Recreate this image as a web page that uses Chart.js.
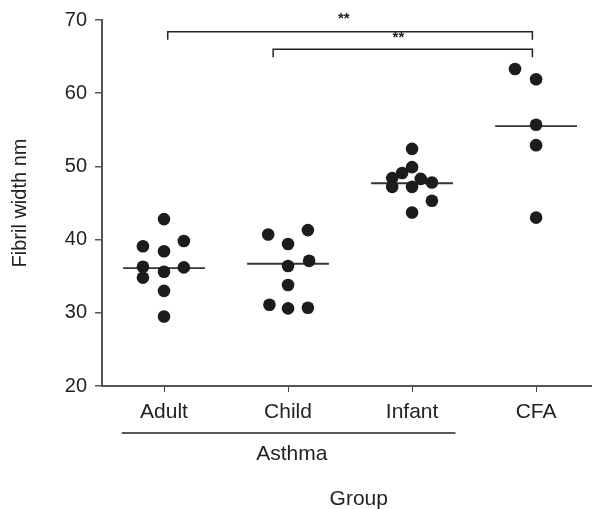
<!DOCTYPE html>
<html>
<head>
<meta charset="utf-8">
<script src="https://cdn.jsdelivr.net/npm/chart.js@4.4.0/dist/chart.umd.min.js"></script>
<style>
  html, body { margin: 0; padding: 0; background: #fff; }
  canvas { display: block; }
</style>
</head>
<body>
<canvas id="myChart" width="592" height="509"></canvas>
<script>
// categories on the x axis (positions 1..4)
const categories = ["Adult", "Child", "Infant", "CFA"];

// fibril widths (nm), with the horizontal spread of each dot
const adultValues  = [42.8, 39.1, 39.8, 38.4, 36.3, 36.2, 34.8, 35.6, 33.0, 29.5];
const adultSpread  = [0, -0.17, 0.16, 0, -0.17, 0.16, -0.17, 0, 0, 0];
const childValues  = [40.7, 41.3, 39.4, 36.4, 37.1, 33.8, 31.1, 30.6, 30.7];
const childSpread  = [-0.16, 0.16, 0, 0, 0.17, 0, -0.15, 0, 0.16];
const infantValues = [52.4, 49.9, 49.1, 48.4, 48.3, 47.8, 47.2, 47.2, 45.3, 43.7];
const infantSpread = [0, 0, -0.08, -0.16, 0.07, 0.16, -0.16, 0, 0.16, 0];
const cfaValues    = [63.3, 61.9, 55.7, 52.9, 43.0];
const cfaSpread    = [-0.17, 0, 0, 0, 0];

// median line of each group
const medians = [36.1, 36.7, 47.7, 55.5];

// y axis ticks
const yTicks = [20, 30, 40, 50, 60, 70];

// significance brackets: [from, to, level, drop], text
const bracket1 = [1.03, 3.97, 68.4, 67.3];
const bracket2 = [1.88, 3.97, 66.0, 64.9];
const bracketLabels = ["**", "**"];

const groups = [
  [adultValues, adultSpread],
  [childValues, childSpread],
  [infantValues, infantSpread],
  [cfaValues, cfaSpread],
];

function dots(values, spread, pos) {
  return values.map((v, i) => ({ x: pos + spread[i], y: v }));
}

function bracketPoints(b) {
  return [
    { x: b[0], y: b[3] },
    { x: b[0], y: b[2] },
    { x: b[1], y: b[2] },
    { x: b[1], y: b[3] },
  ];
}

const datasets = [];

groups.forEach((g, i) => {
  datasets.push({
    type: "scatter",
    label: categories[i],
    data: dots(g[0], g[1], i + 1),
    pointRadius: 6.3,
    pointHoverRadius: 6.3,
    backgroundColor: "#1c1c1c",
    borderColor: "#1c1c1c",
    borderWidth: 0,
    order: 1,
  });
});

medians.forEach((m, i) => {
  datasets.push({
    type: "line",
    label: "median " + categories[i],
    data: [{ x: i + 1 - 0.33, y: m }, { x: i + 1 + 0.33, y: m }],
    borderColor: "#333",
    borderWidth: 1.8,
    pointRadius: 0,
    order: 2,
  });
});

[bracket1, bracket2].forEach((b, i) => {
  datasets.push({
    type: "line",
    label: "bracket " + (i + 1),
    data: bracketPoints(b),
    borderColor: "#222",
    borderWidth: 1.5,
    pointRadius: 0,
    tension: 0,
    clip: false,
    order: 2,
  });
});

const font = { family: "'Liberation Sans', Arial, sans-serif", size: 20 };
const catFont = { family: "'Liberation Sans', Arial, sans-serif", size: 21 };

const extras = {
  id: "extras",
  afterDraw(chart) {
    const ctx = chart.ctx;
    const x = chart.scales.x;
    const y = chart.scales.y;
    const area = chart.chartArea;
    ctx.save();

    // x axis line runs on to the right edge
    ctx.strokeStyle = "#555";
    ctx.lineWidth = 2;
    ctx.beginPath();
    ctx.moveTo(area.right - 1, area.bottom);
    ctx.lineTo(chart.width, area.bottom);
    ctx.stroke();

    ctx.fillStyle = "#222";
    ctx.textAlign = "center";
    ctx.textBaseline = "middle";

    // stars over the brackets
    ctx.font = "bold 15px 'Liberation Sans', Arial, sans-serif";
    ctx.fillText(bracketLabels[0], x.getPixelForValue(2.45), y.getPixelForValue(70.2));
    ctx.fillText(bracketLabels[1], x.getPixelForValue(2.89), y.getPixelForValue(67.5));

    // Asthma grouping line under the first three categories
    const base = area.bottom;
    ctx.strokeStyle = "#222";
    ctx.lineWidth = 1.5;
    ctx.beginPath();
    ctx.moveTo(x.getPixelForValue(0.66), base + 47);
    ctx.lineTo(x.getPixelForValue(3.35), base + 47);
    ctx.stroke();

    ctx.font = "21px 'Liberation Sans', Arial, sans-serif";
    ctx.fillText("Asthma", x.getPixelForValue(2.03), base + 68);
    ctx.fillText("Group", x.getPixelForValue(2.57), base + 113);
    ctx.restore();
  },
};

const ctx = document.getElementById("myChart").getContext("2d");
new Chart(ctx, {
  data: { datasets },
  options: {
    responsive: false,
    animation: false,
    devicePixelRatio: 1,
    layout: { padding: { top: 15, right: 0, bottom: 0, left: 0 } },
    plugins: {
      legend: { display: false },
      tooltip: { enabled: false },
    },
    scales: {
      x: {
        type: "linear",
        min: 0.5,
        max: 4.4,
        afterFit(scale) { scale.height = 123; },
        afterBuildTicks(scale) {
          scale.ticks = categories.map((c, i) => ({ value: i + 1 }));
        },
        ticks: {
          color: "#222",
          font: catFont,
          padding: 8,
          callback: (v) => categories[v - 1],
        },
        grid: { drawOnChartArea: false, drawTicks: true, tickLength: 6, color: "#444" },
        border: { display: true, color: "#555", width: 2 },
      },
      y: {
        type: "linear",
        min: 20,
        max: 70,
        afterFit(scale) { scale.width = 102; },
        afterBuildTicks(scale) {
          scale.ticks = yTicks.map((v) => ({ value: v }));
        },
        ticks: { color: "#222", font, padding: 8 },
        grid: { drawOnChartArea: false, drawTicks: true, tickLength: 7, color: "#555", lineWidth: 1.5 },
        border: { display: true, color: "#555", width: 2 },
        title: {
          display: true,
          text: "Fibril width nm",
          color: "#222",
          font,
          padding: { top: 8, bottom: 0 },
        },
      },
    },
  },
  plugins: [extras],
});
</script>
</body>
</html>
